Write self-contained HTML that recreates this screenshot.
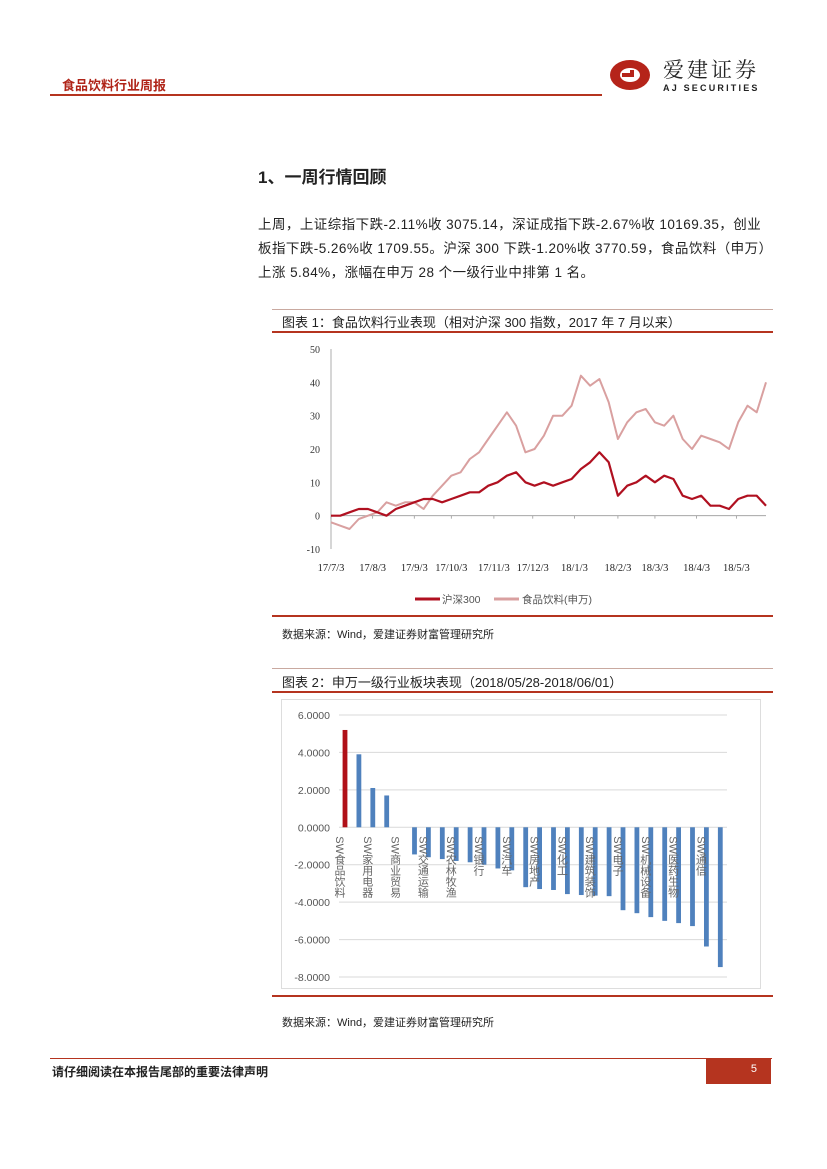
<!DOCTYPE html>
<html><head><meta charset="utf-8">
<style>
body{margin:0;width:827px;height:1169px;background:#fff;position:relative;overflow:hidden;font-family:"Liberation Sans","Noto Sans CJK SC",sans-serif;color:#222}
.abs{position:absolute}
.p{position:absolute;left:258px;font-size:13.5px;white-space:nowrap;letter-spacing:0.45px}
</style></head><body>
<div class="abs" style="left:62px;top:75px;font-size:13px;font-weight:bold;color:#b02418">食品饮料行业周报</div>
<div class="abs" style="left:50px;top:94px;width:552px;height:2px;background:#b5341f"></div>
<svg class="abs" style="left:608px;top:54px" width="165" height="40">
<ellipse cx="22" cy="21" rx="20" ry="15" fill="#b5241a"/>
<ellipse cx="22" cy="21" rx="10" ry="7" fill="#fff"/>
<path d="M14 21 h10 v-5" stroke="#b5241a" stroke-width="4" fill="none"/>
<text x="55" y="23" font-size="21" font-family="Noto Serif CJK SC,serif" fill="#222" letter-spacing="3">爱建证券</text>
<text x="55" y="37" font-size="9" font-weight="bold" fill="#222" letter-spacing="2.2">AJ SECURITIES</text>
</svg>

<div class="abs" style="left:258px;top:163px;font-size:17px;font-weight:bold">1、一周行情回顾</div>
<div class="p" style="top:213px">上周，上证综指下跌-2.11%收 3075.14，深证成指下跌-2.67%收 10169.35，创业</div>
<div class="p" style="top:237px">板指下跌-5.26%收 1709.55。沪深 300 下跌-1.20%收 3770.59，食品饮料（申万）</div>
<div class="p" style="top:261px">上涨 5.84%，涨幅在申万 28 个一级行业中排第 1 名。</div>

<div class="abs" style="left:272px;top:309px;width:501px;height:1px;background:#c9a9a0"></div>
<div class="abs" style="left:282px;top:312px;font-size:13px">图表 1：食品饮料行业表现（相对沪深 300 指数，2017 年 7 月以来）</div>
<div class="abs" style="left:272px;top:331px;width:501px;height:2px;background:#b5341f"></div>
<svg class="abs" id="c1" style="left:272px;top:335px" width="501" height="280"></svg>
<div class="abs" style="left:272px;top:615px;width:501px;height:2px;background:#b5341f"></div>
<div class="abs" style="left:282px;top:626px;font-size:11px">数据来源：Wind，爱建证券财富管理研究所</div>

<div class="abs" style="left:272px;top:668px;width:501px;height:1px;background:#c9a9a0"></div>
<div class="abs" style="left:282px;top:672px;font-size:13px">图表 2：申万一级行业板块表现（2018/05/28-2018/06/01）</div>
<div class="abs" style="left:272px;top:691px;width:501px;height:2px;background:#b5341f"></div>
<svg class="abs" id="c2" style="left:281px;top:699px;border:1px solid #ddd" width="478" height="288"></svg>
<div class="abs" style="left:272px;top:995px;width:501px;height:2px;background:#b5341f"></div>
<div class="abs" style="left:282px;top:1014px;font-size:11px">数据来源：Wind，爱建证券财富管理研究所</div>

<div class="abs" style="left:50px;top:1058px;width:722px;height:1px;background:#b5341f"></div>
<div class="abs" style="left:52px;top:1063px;font-size:12px;font-weight:bold">请仔细阅读在本报告尾部的重要法律声明</div>
<div class="abs" style="left:706px;top:1059px;width:65px;height:25px;background:#b5341f;color:#fff;font-size:11px;text-align:right;box-sizing:border-box;padding:4px 14px 0 0">5</div>

<script>
const NS='http://www.w3.org/2000/svg';
function mk(p,tag,attrs){const e=document.createElementNS(NS,tag);for(const k in attrs)e.setAttribute(k,attrs[k]);p.appendChild(e);return e;}
// ---- Chart 1 data ----
const c1Dates=['17/7/3','17/8/3','17/9/3','17/10/3','17/11/3','17/12/3','18/1/3','18/2/3','18/3/3','18/4/3','18/5/3'];
const c1DateWeek=[0,4.5,9,13,17.6,21.8,26.3,31,35,39.5,43.8];
const c1YTicks=[50,40,30,20,10,0,-10];
const foodSeries=[-2,-3,-4,-1,0,1,4,3,4,4,2,6,9,12,13,17,19,23,27,31,27,19,20,24,30,30,33,42,39,41,34,23,28,31,32,28,27,30,23,20,24,23,22,20,28,33,31,40];
const hs300Series=[0,0,1,2,2,1,0,2,3,4,5,5,4,5,6,7,7,9,10,12,13,10,9,10,9,10,11,14,16,19,16,6,9,10,12,10,12,11,6,5,6,3,3,2,5,6,6,3];
const c1=document.getElementById('c1');
const x1=i=>59+i*(435/(foodSeries.length-1));
const y1=v=>14+(50-v)*(200/60);
mk(c1,'line',{x1:59,y1:y1(50),x2:59,y2:y1(-10),stroke:'#999','stroke-width':0.8});
mk(c1,'line',{x1:59,y1:y1(0),x2:494,y2:y1(0),stroke:'#999','stroke-width':0.8});
c1YTicks.forEach(t=>{const e=mk(c1,'text',{x:48,y:y1(t)+4,'text-anchor':'end','font-size':10,'font-family':'Liberation Serif,serif',fill:'#333'});e.textContent=t;

});
c1Dates.forEach((d,i)=>{const xx=x1(c1DateWeek[i]);mk(c1,'line',{x1:xx,y1:y1(0),x2:xx,y2:y1(0)+3,stroke:'#999','stroke-width':0.8});
const e=mk(c1,'text',{x:xx,y:236,'text-anchor':'middle','font-size':10.5,'font-family':'Liberation Serif,serif',fill:'#222'});e.textContent=d;

});
function line(arr,col,w,name){const d=arr.map((v,i)=>(i?'L':'M')+x1(i).toFixed(1)+' '+y1(v).toFixed(1)).join(' ');const e=mk(c1,'path',{d:d,fill:'none',stroke:col,'stroke-width':w,'stroke-linejoin':'round'});

}
line(foodSeries,'#d9a0a0',2,'food-beverage-line');
line(hs300Series,'#b01020',2.2,'hs300-line');
mk(c1,'line',{x1:143,y1:264,x2:168,y2:264,stroke:'#b01020','stroke-width':3});
let t=mk(c1,'text',{x:170,y:268,'font-size':10.5,fill:'#555'});t.textContent='沪深300';


mk(c1,'line',{x1:222,y1:264,x2:247,y2:264,stroke:'#d9a0a0','stroke-width':3});
t=mk(c1,'text',{x:250,y:268,'font-size':10.5,fill:'#555'});t.textContent='食品饮料(申万)';


// ---- Chart 2 data ----
const c2Cats=['SW食品饮料','SW休闲服务','SW家用电器','SW纺织服装','SW商业贸易','SW轻工制造','SW交通运输','SW公用事业','SW农林牧渔','SW钢铁','SW银行','SW非银金融','SW汽车','SW综合','SW房地产','SW建筑材料','SW化工','SW采掘','SW建筑装饰','SW有色金属','SW电子','SW国防军工','SW机械设备','SW电气设备','SW医药生物','SW传媒','SW通信','SW计算机'];
const c2Vals=[5.2,3.9,2.1,1.7,0,-1.45,-1.6,-1.7,-1.8,-1.87,-2.0,-2.2,-2.3,-3.2,-3.3,-3.35,-3.57,-3.62,-3.65,-3.68,-4.43,-4.59,-4.8,-5.0,-5.12,-5.28,-6.37,-7.47];
const c2Ticks=[6,4,2,0,-2,-4,-6,-8];
const c2=document.getElementById('c2');
const y2=v=>15+(6-v)*(262/14);
const x2=i=>63+i*13.9;
c2Ticks.forEach(tk=>{mk(c2,'line',{x1:57,y1:y2(tk),x2:445,y2:y2(tk),stroke:'#d9d9d9','stroke-width':1});
const e=mk(c2,'text',{x:48,y:y2(tk)+4,'text-anchor':'end','font-size':10.5,fill:'#555'});e.textContent=tk.toFixed(4);

});
c2Vals.forEach((v,i)=>{const y0=y2(0),yv=y2(v);const r=mk(c2,'rect',{x:x2(i)-2.4,y:Math.min(y0,yv),width:4.8,height:Math.abs(yv-y0),fill:i===0?'#b01018':'#4f81bd'});

});
c2Cats.forEach((c,i)=>{if(i%2)return;const e=mk(c2,'text',{x:x2(i)-6,y:y2(0)+9,'font-size':11,fill:'#666','writing-mode':'tb','glyph-orientation-vertical':0});e.textContent=c;

});
</script>
</body></html>
